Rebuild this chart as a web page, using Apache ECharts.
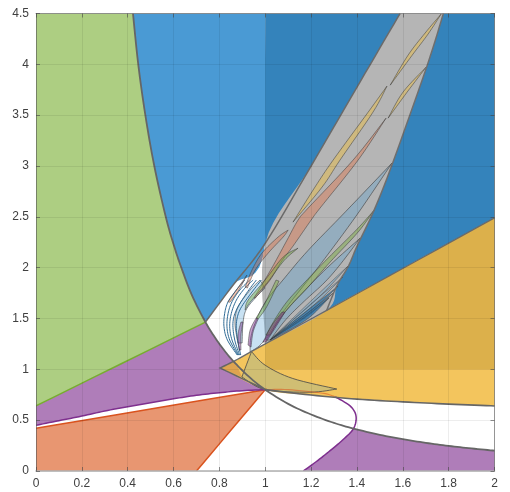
<!DOCTYPE html>
<html><head><meta charset="utf-8">
<script src="https://cdn.jsdelivr.net/npm/echarts@6/dist/echarts.min.js"></script>
<style>html,body{margin:0;padding:0;background:#fff}#c{width:510px;height:492px}</style>
</head><body><div id="c"></div>
<script>
const xTicks=[0,0.2,0.4,0.6,0.8,1,1.2,1.4,1.6,1.8,2];
const yTicks=[0,0.5,1,1.5,2,2.5,3,3.5,4,4.5];
const upperCurve=[[.423,4.5],[.446,4],[.477,3.5],[.516,3],[.566,2.5],[.602,2.215],[.634,2],[.68,1.73],[.739,1.465]];
const lowerCurve=[[.78,1.315],[.82,1.19],[.86,1.082],[.93,.925],[1,.8]];
const tailCurve=[[1.1,.66],[1.2,.556],[1.3,.473],[1.385,.417],[1.5,.356],[1.6,.313],[1.7,.277],[1.8,.247],[1.9,.222],[2,.2]];
const wedgeLeft=[[.739,1.465],[.86,1.83],[1,2.24],[1.2,3.0],[1.435,3.91],[1.588,4.5]];
const wedgeRight=[[1.777,4.5],[1.705,3.98],[1.555,3.025],[1.475,2.566],[1.4,2.21],[1.363,2.016],[1.312,1.82],[1.268,1.58]];
const goldTop=[[.868,1.085],[1,1.25],[1.268,1.58],[2,2.49]];
const goldBottom=[[2,.64],[1.8,.658],[1.6,.68],[1.4,.707],[1.2,.747],[1,.8]];
const purpleEdge=[[0,.45],[.1,.495],[.2,.54],[.3,.59],[.4,.632],[.5,.672],[.6,.71],[.7,.745],[.8,.77],[.9,.79],[1,.8]];
const purpleArc=[[1.166,0],[1.23,.105],[1.29,.213],[1.34,.31],[1.385,.417],[1.396,.54],[1.37,.64],[1.305,.73]];
const orangeArc=[[1,.8],[1.1,.8],[1.25,.765],[1.305,.73]];
const greenEdge=[[0,.64],[.739,1.465]];
const orangeEdge=[[0,.42],[1,.8],[.7,0]];
const greenPts=[[0,4.5],...upperCurve,[0,.64]];
const blueLeft=[[1,4.5],[1,2.24],[.86,1.83],[.739,1.465],...upperCurve.slice().reverse()];
const blueMid=[[1,4.5],[1.588,4.5],[1.435,3.91],[1.2,3.0],[1,2.24]];
const blueRight=[[2,4.5],[2,2.49],...wedgeRight.slice().reverse()];
const goldLight=[...goldTop,...goldBottom,[.803,1.013]];
const goldDark=[[1,1.25],[2,2.49],[2,1],[1,1]];
const goldOverPurple=[[.803,1.013],[.868,1.085],[.898,.925]];
const tanPts=[[.94,1.175],[1,1.04],[1.12,.91],[1.312,.806],[1.195,.775],[1,.8],[.898,.925]];
const purpleBig=[[0,.64],[.739,1.465],...lowerCurve,...purpleEdge.slice().reverse()];
const purpleLow=[[1.166,0],[1.23,.105],[1.29,.213],[1.34,.31],...tailCurve.slice(3),[2,0]];
const orangePts=[[0,0],[0,.42],[1,.8],[.7,0]];
const grayPts=[[1,2.24],[1.2,3.0],[1.435,3.91],[1.588,4.5],...wedgeRight,[1,1.25]];
const curve1=[[.878,1.14],[.835,1.288],[.820,1.419],[.823,1.55],[.838,1.665],[.874,1.78],[.910,1.878]];
const curve2=[[.881,1.14],[.845,1.288],[.833,1.419],[.838,1.55],[.855,1.665],[.889,1.78],[.932,1.878]];
const curve3=[[.884,1.14],[.855,1.288],[.845,1.419],[.852,1.55],[.874,1.681],[.910,1.796],[.947,1.878]];
const curve4=[[.888,1.14],[.867,1.288],[.859,1.452],[.874,1.583],[.918,1.747],[.961,1.878]];
const curve5=[[.893,1.14],[.878,1.304],[.874,1.452],[.889,1.583],[.932,1.73],[.983,1.878]];
const lightA=[[.881,1.259],[.868,1.455],[.881,1.613],[.934,1.780],[.977,1.878],[.999,1.799],[.956,1.701],[.916,1.583],[.903,1.455],[.899,1.259]];
const lensBig=[[.934,1.17],[.936,1.30],[.955,1.45],[1.0,1.66],[1.085,1.90],[1.187,2.17],[1.35,2.55],[1.553,3.029],[1.40,2.52],[1.243,2.04],[1.152,1.78],[1.073,1.55],[.99,1.268]];
const lens2=[[1.414,2.291],[1.283,2.026],[1.174,1.780],[1.086,1.563],[1.003,1.288],[1.021,1.288],[1.09,1.49],[1.17,1.67],[1.261,1.86],[1.33,2.04]];
const goldA=[[1.121,2.448],[1.217,2.793],[1.296,3.058],[1.449,3.530],[1.531,3.786],[1.470,3.530],[1.326,3.058],[1.248,2.793]];
const goldB=[[1.545,3.795],[1.623,4.090],[1.697,4.307],[1.767,4.494],[1.710,4.297],[1.641,4.090]];
const goldC=[[1.536,3.471],[1.601,3.727],[1.702,3.973],[1.619,3.727]];
const salmonB=[[1.527,3.471],[1.383,3.058],[1.187,2.586],[1.143,2.468],[1.095,2.271],[1.043,2.055],[1.003,1.898],[.95,1.70],[.956,1.701],[1.021,1.878],[1.069,2.055],[1.121,2.212],[1.2,2.468],[1.239,2.586],[1.405,3.058]];
const salmonD=[[.912,1.809],[.942,1.976],[.986,2.144],[1.056,2.301],[1.100,2.370],[1.078,2.301],[1.013,2.144],[.956,1.976],[.922,1.80]];
const salmonS=[[.838,1.665],[.874,1.78],[.920,1.927],[.886,1.785],[.846,1.66]];
const greenMain=[[1.003,1.337],[1.05,1.52],[1.10,1.68],[1.174,1.86],[1.274,2.094],[1.401,2.38],[1.475,2.566],[1.405,2.350],[1.283,2.055],[1.187,1.809],[1.12,1.65],[1.06,1.49],[1.021,1.337]];
const green2=[[.912,1.583],[.925,1.681],[.999,1.878],[1.078,2.104],[1.143,2.192],[1.082,2.07],[1.008,1.85],[.934,1.66]];
const green3=[[.960,1.504],[.999,1.652],[1.047,1.878],[1.06,1.868],[1.008,1.622],[.969,1.495]];
const purple1=[[.990,1.268],[1.030,1.436],[1.073,1.563],[1.086,1.563],[1.043,1.406],[1.003,1.268]];
const purple2=[[.925,1.239],[.934,1.386],[.960,1.504],[.969,1.495],[.947,1.367],[.938,1.219]];
const purple3=[[.886,1.190],[.881,1.337],[.894,1.465],[.903,1.465],[.894,1.337],[.894,1.190]];
const fin1=[[1.021,1.288],[1.222,1.721],[1.361,2.016],[1.235,1.711]];
const fin2=[[1.021,1.288],[1.204,1.652],[1.339,1.908],[1.217,1.642]];
const fin3=[[1.021,1.288],[1.191,1.593],[1.318,1.819],[1.204,1.583]];
const fin4=[[1.021,1.288],[1.178,1.544],[1.296,1.750],[1.191,1.534]];
const fin5=[[1.021,1.288],[1.165,1.504],[1.278,1.701],[1.178,1.485]];

const edge='rgba(60,60,60,.75)',fanEdge='#2f6b96';
const LB='rgba(74,154,212,.3)',DB='rgba(30,110,170,.7)',SA='rgba(232,100,50,.35)',GO='rgba(240,190,60,.45)',GR='rgba(120,170,60,.45)',PU='rgba(126,47,142,.45)';
function sharp(a,b,c){const u=[b[0]-a[0],b[1]-a[1]],v=[c[0]-b[0],c[1]-b[1]];
  const d=(u[0]*v[0]+u[1]*v[1])/(Math.hypot(...u)*Math.hypot(...v)||1);return d<0.72;}
function soften(p,closed){const n=p.length,out=[];const at=i=>closed?p[(i+n)%n]:p[Math.max(0,Math.min(n-1,i))];
  const last=closed?n:n-1;
  for(let i=0;i<last;i++){let p1=at(i),p2=at(i+1),p0=at(i-1),p3=at(i+2);
    if(p0===p1||sharp(p0,p1,p2))p0=p1;
    if(p3===p2||sharp(p1,p2,p3))p3=p2;
    for(let k=0;k<8;k++){const t=k/8,t2=t*t,t3=t2*t;
      out.push([0,1].map(j=>.5*(2*p1[j]+(p2[j]-p0[j])*t+(2*p0[j]-5*p1[j]+4*p2[j]-p3[j])*t2+(3*p1[j]-p0[j]-3*p2[j]+p3[j])*t3)));}}
  if(!closed)out.push(p[n-1]);return out;}
function poly(pts,fill,stroke,lw){return{type:'custom',coordinateSystem:'cartesian2d',silent:true,animation:false,clip:true,data:pts,
  renderItem:(p,api)=>p.dataIndex?null:{type:'polygon',shape:{points:soften(pts.map(q=>api.coord(q)),true)},style:{fill,stroke:stroke||null,lineWidth:lw||0}}};}
function line(pts,color,w){return{type:'custom',coordinateSystem:'cartesian2d',silent:true,animation:false,clip:true,data:pts,
  renderItem:(p,api)=>p.dataIndex?null:{type:'polyline',shape:{points:soften(pts.map(q=>api.coord(q)),false)},style:{fill:null,stroke:color,lineWidth:w}}};}
const series=[
 poly(greenPts,'#adce82'),poly(blueLeft,'#4a9ad4'),poly(blueMid,'#3483bb'),poly(blueRight,'#3483bb'),
 poly(purpleBig,'#af7db9'),poly(purpleLow,'#af7db9'),poly(orangePts,'#e89671'),
 poly(goldLight,'#f3c55d'),poly(goldDark,'#dcb04b'),poly(goldOverPurple,'#dea450'),
 poly(tanPts,'#d0be73','rgba(70,70,70,.8)',1),
 poly(grayPts,'#b5b5b5'),
 poly(lensBig,LB,edge,.8),poly(lens2,LB,edge,.8),poly(lightA,LB,edge,.8),
 line(curve1,fanEdge,1),line(curve2,fanEdge,1),line(curve3,fanEdge,1),line(curve4,fanEdge,1),line(curve5,fanEdge,1),
 poly(fin1,LB,edge,.6),poly(fin2,LB,edge,.6),poly(fin3,DB,edge,.6),poly(fin4,DB,edge,.6),poly(fin5,DB,edge,.6),
 poly(goldA,GO,edge,.7),poly(goldB,GO,edge,.7),poly(goldC,GO,edge,.7),
 poly(salmonB,SA,edge,.7),poly(salmonD,SA,edge,.7),poly(salmonS,SA,edge,.7),
 poly(greenMain,GR,edge,.7),poly(green2,GR,edge,.7),poly(green3,GR,edge,.7),
 poly(purple1,PU,edge,.7),poly(purple2,PU,edge,.7),poly(purple3,PU,edge,.7),
 line(orangeEdge,'#d9531e',1.5),line(orangeArc,'rgba(217,83,30,.55)',1.2),line(purpleEdge,'#7e2f8e',1.5),line(purpleArc,'#7e2f8e',1.5),line(greenEdge,'#77ac30',1.5),
 line([...upperCurve,...lowerCurve,...tailCurve],'#666',1.8),
 line(wedgeLeft,'#6a6a6a',1.5),line(wedgeRight,'#6e6e6e',1.5),
 line(goldTop,'#6a6a6a',1.3),line(goldBottom,'#666',1.6),line([[.868,1.085],[.803,1.013],[1,.8]],'#666',1.5)
];
function ax(pos,min,max,interval,labels){return{type:'value',position:pos,min,max,interval,z:5,
  axisLine:{show:true,onZero:false,lineStyle:{color:pos==='bottom'?'#b0b0b0':'rgba(90,90,90,.6)',width:pos==='bottom'?1.5:1}},
  axisTick:{show:true,inside:true,length:4,lineStyle:{color:'rgba(70,70,70,.6)'}},
  axisLabel:{show:labels,margin:7,color:'#404040',fontSize:12,fontFamily:'Liberation Sans'},
  splitLine:{show:labels,lineStyle:{color:'rgba(0,0,0,.07)',width:1}}};}
const chart=echarts.init(document.getElementById('c'),null,{renderer:'canvas'});
chart.setOption({animation:false,backgroundColor:'#fff',
 grid:{left:36,right:15.5,top:13.5,bottom:21},
 xAxis:[ax('bottom',xTicks[0],xTicks[xTicks.length-1],0.2,true),ax('top',0,2,0.2,false)],
 yAxis:[ax('left',yTicks[0],yTicks[yTicks.length-1],0.5,true),ax('right',0,4.5,0.5,false)],
 series});
</script></body></html>
